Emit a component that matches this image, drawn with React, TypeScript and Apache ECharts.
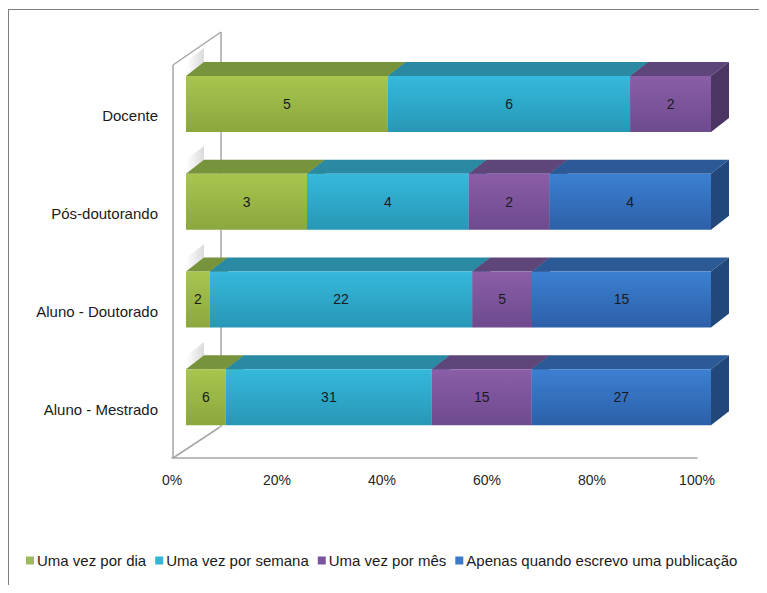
import React, { useEffect, useRef } from "react";
import * as echarts from "echarts";

const categories = ["Aluno - Mestrado", "Aluno - Doutorado", "Pós-doutorando", "Docente"];
const seriesNames = ["Uma vez por dia", "Uma vez por semana", "Uma vez por mês", "Apenas quando escrevo uma publicação"];
const umaVezPorDia = [6, 2, 3, 5];
const umaVezPorSemana = [31, 22, 4, 6];
const umaVezPorMes = [15, 5, 2, 2];
const apenasPublicacao = [27, 15, 4, 0];
const xTicks = [0, 20, 40, 60, 80, 100];

const palette = [
  { front: ["#a8c54f", "#8aa83d"], top: "#77933c", side: "#5f7a2c", legend: "#9bbb59" },
  { front: ["#35b9dc", "#2897b6"], top: "#2b8aa3", side: "#21708a", legend: "#31b6d8" },
  { front: ["#8a5ea8", "#6e4a8e"], top: "#5f467a", side: "#4a3563", legend: "#7d52a0" },
  { front: ["#3c80d2", "#2c60a8"], top: "#2c5a96", side: "#22477a", legend: "#3b78c8" },
];

const DX = 18;
const DY = -14;
const H = 56;
const OFFX = 14;
const OFFY = -12;

export default function App() {
  const ref = useRef<HTMLDivElement>(null);
  useEffect(() => {
    if (!ref.current) return;
    const chart = echarts.init(ref.current, undefined, { renderer: "svg" });
    const all = [umaVezPorDia, umaVezPorSemana, umaVezPorMes, apenasPublicacao];
    const totals = categories.map((_, i) => all.reduce((s, a) => s + a[i], 0));
    const starts = categories.map(() => 0);
    const series: any[] = all.map((arr, si) => {
      const data = arr.map((v, ci) => {
        const s = starts[ci];
        const e = s + (v / totals[ci]) * 100;
        starts[ci] = e;
        return [e, ci, s, v];
      });
      const col = palette[si];
      return {
        type: "custom",
        name: seriesNames[si],
        itemStyle: { color: col.legend },
        encode: { x: [0, 2], y: 1 },
        data,
        renderItem: (params: any, api: any) => {
          const end = api.value(0);
          const ci = api.value(1);
          const start = api.value(2);
          const val = api.value(3);
          if (!val) return { type: "group", children: [] };
          const p0 = api.coord([start, ci]);
          const p1 = api.coord([end, ci]);
          const x0 = p0[0] + OFFX;
          const x1 = p1[0] + OFFX;
          const yc = p0[1] + OFFY;
          const yt = yc - H / 2;
          const yb = yc + H / 2;
          return {
            type: "group",
            children: [
              {
                type: "polygon",
                shape: { points: [[x0, yt], [x1, yt], [x1 + DX, yt + DY], [x0 + DX, yt + DY]] },
                style: { fill: col.top },
              },
              {
                type: "polygon",
                shape: { points: [[x1, yt], [x1 + DX, yt + DY], [x1 + DX, yb + DY], [x1, yb]] },
                style: { fill: col.side },
              },
              {
                type: "rect",
                shape: { x: x0, y: yt, width: x1 - x0, height: H },
                style: {
                  fill: new echarts.graphic.LinearGradient(0, 0, 0, 1, [
                    { offset: 0, color: col.front[0] },
                    { offset: 1, color: col.front[1] },
                  ]),
                },
              },
              {
                type: "text",
                x: (x0 + x1) / 2,
                y: yc,
                style: {
                  text: String(val),
                  fill: "#1a1a1a",
                  font: "14px 'Liberation Sans', Arial, sans-serif",
                  align: "center",
                  verticalAlign: "middle",
                },
              },
            ],
          };
        },
      };
    });

    const wallColor = "#a6a6a6";
    const shadow = (y: number) => ({
      type: "polygon",
      shape: { points: [[178, y], [196, y - 14], [196, y + 12], [178, y + 24]] },
      style: {
        fill: new echarts.graphic.LinearGradient(0, 0, 1, 0, [
          { offset: 0, color: "rgba(150,150,150,0)" },
          { offset: 1, color: "rgba(150,150,150,0.35)" },
        ]),
      },
    });
    chart.setOption({
      animation: false,
      backgroundColor: "#ffffff",
      textStyle: { fontFamily: "'Liberation Sans', Arial, sans-serif" },
      grid: { left: 164, width: 525, top: 59, height: 391, containLabel: false },
      xAxis: {
        type: "value",
        min: xTicks[0],
        max: xTicks[xTicks.length - 1],
        interval: 20,
        axisLine: { show: true, lineStyle: { color: wallColor, width: 1.5 } },
        axisTick: { show: false },
        splitLine: { show: false },
        axisLabel: { formatter: "{value}%", color: "#262626", fontSize: 14, margin: 15 },
      },
      yAxis: {
        type: "category",
        data: categories,
        axisLine: { show: false },
        axisTick: { show: false },
        axisLabel: { color: "#1a1a1a", fontSize: 15, margin: 14 },
      },
      legend: {
        left: 13,
        top: 540,
        icon: "rect",
        itemWidth: 8,
        itemHeight: 8,
        itemGap: 9,
        textStyle: { fontSize: 15, color: "#1a1a1a", padding: [0, 0, 0, -2] },
        data: seriesNames,
      },
      graphic: [
        { type: "line", shape: { x1: 0.5, y1: 1.5, x2: 0.5, y2: 600 }, style: { stroke: "#7f7f7f", lineWidth: 1 } },
        { type: "line", shape: { x1: 0, y1: 1.5, x2: 767, y2: 1.5 }, style: { stroke: "#7f7f7f", lineWidth: 1 } },
        { type: "line", shape: { x1: 165, y1: 57, x2: 165, y2: 450 }, style: { stroke: wallColor, lineWidth: 1.5 } },
        { type: "line", shape: { x1: 165, y1: 57, x2: 213, y2: 24 }, style: { stroke: wallColor, lineWidth: 1.5 } },
        { type: "line", shape: { x1: 213, y1: 24, x2: 213, y2: 419 }, style: { stroke: wallColor, lineWidth: 1.5 } },
        { type: "line", shape: { x1: 165, y1: 450, x2: 212, y2: 419 }, style: { stroke: wallColor, lineWidth: 1.5 } },
        shadow(54),
        shadow(152),
        shadow(250),
        shadow(348),
      ],
      series,
    });
    return () => chart.dispose();
  }, []);
  return <div ref={ref} style={{ width: 751, height: 577 }} />;
}
